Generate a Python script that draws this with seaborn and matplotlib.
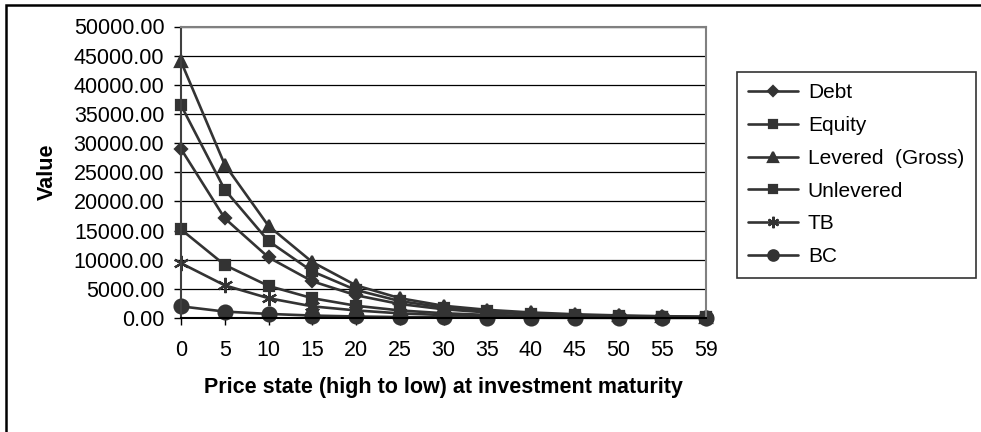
import matplotlib
matplotlib.use("Agg")
import matplotlib.pyplot as plt
import matplotlib.patches as mpatches
import seaborn as sns
import pandas as pd

# Price states (high to low) at investment maturity
states = ["0", "5", "10", "15", "20", "25", "30", "35", "40", "45", "50", "55", "59"]

debt = [29000, 17100, 10400, 6300, 3900, 2400, 1500, 950, 620, 410, 280, 190, 140]
equity = [36500, 22000, 13200, 8000, 4800, 2900, 1800, 1150, 750, 500, 340, 230, 170]
levered_gross = [44000, 26300, 15800, 9600, 5600, 3400, 2100, 1400, 950, 640, 440, 310, 230]
unlevered = [15200, 9100, 5500, 3400, 2100, 1300, 820, 530, 350, 240, 160, 110, 80]
tb = [9400, 5600, 3400, 2000, 1300, 800, 500, 330, 220, 150, 100, 70, 50]
bc = [2000, 1100, 700, 420, 260, 160, 100, 65, 45, 30, 20, 14, 10]

series_names = ["Debt", "Equity", "Levered  (Gross)", "Unlevered", "TB", "BC"]
series_values = [debt, equity, levered_gross, unlevered, tb, bc]
series_markers = ["D", "s", "^", "s", (6, 2, 0), "o"]
series_msizes = [6.5, 7.5, 9.0, 7.5, 11.0, 10.0]

sns.set_theme(style="white")
plt.rcParams["font.family"] = ["Liberation Sans", "DejaVu Sans"]

ink = "#333333"
fs = 15.5

fig = plt.figure(figsize=(9.81, 4.32), dpi=100)
ax = fig.add_axes([181 / 981, 1 - 318 / 432, (706 - 181) / 981, (318 - 26.5) / 432])

positions = list(range(len(states)))
for name, vals, mk, ms in zip(series_names, series_values, series_markers, series_msizes):
    df = pd.DataFrame({"state": positions, "value": vals})
    sns.lineplot(data=df, x="state", y="value", ax=ax, color=ink, linewidth=1.9,
                 marker=mk, markersize=ms, markeredgecolor=ink, markerfacecolor=ink,
                 markeredgewidth=1.6, label=name, clip_on=False)

ax.set_xlim(0, len(states) - 1)
ax.set_ylim(0, 50000)
ax.set_xticks(positions)
ax.set_xticklabels(states)
ax.set_yticks(range(0, 50001, 5000))
ax.set_yticklabels([f"{v:.2f}" for v in range(0, 50001, 5000)])

ax.yaxis.grid(True, color="black", linewidth=0.9)
ax.xaxis.grid(False)
ax.set_axisbelow(True)

for side in ("top", "right"):
    ax.spines[side].set_color("#808080")
    ax.spines[side].set_linewidth(1.5)
ax.spines["left"].set_color("#404040")
ax.spines["left"].set_linewidth(1.5)
ax.spines["bottom"].set_color("black")
ax.spines["bottom"].set_linewidth(1.5)

ax.tick_params(axis="both", which="major", direction="out", length=5, width=1,
               color="black", labelsize=fs, labelcolor="black",
               bottom=True, left=True)
ax.tick_params(axis="y", pad=7)
ax.tick_params(axis="x", pad=11)

ax.set_xlabel("Price state (high to low) at investment maturity",
              fontsize=fs, fontweight="bold", color="black", labelpad=11)
ax.set_ylabel("Value", fontsize=fs, fontweight="bold", color="black")
ax.yaxis.set_label_coords(-0.235, 0.5)

leg = ax.legend(loc="upper left", bbox_to_anchor=(737 / 981, 1 - 72 / 432),
                bbox_transform=fig.transFigure, frameon=True, fancybox=False,
                edgecolor="black", fontsize=15, handlelength=2.4,
                handletextpad=0.45, labelspacing=0.66, borderpad=0.55,
                borderaxespad=0, markerscale=0.75)
leg.get_frame().set_linewidth(1.2)
for t in leg.get_texts():
    t.set_color("black")

# Chart area border (extends past the right and bottom edges)
fig.patches.append(mpatches.Rectangle((6 / 981, -0.5), 2.0, 1 - 5 / 432 + 0.5,
                                      transform=fig.transFigure, fill=False,
                                      edgecolor="black", linewidth=1.8, zorder=0))

fig.savefig("out.png", dpi=100)
